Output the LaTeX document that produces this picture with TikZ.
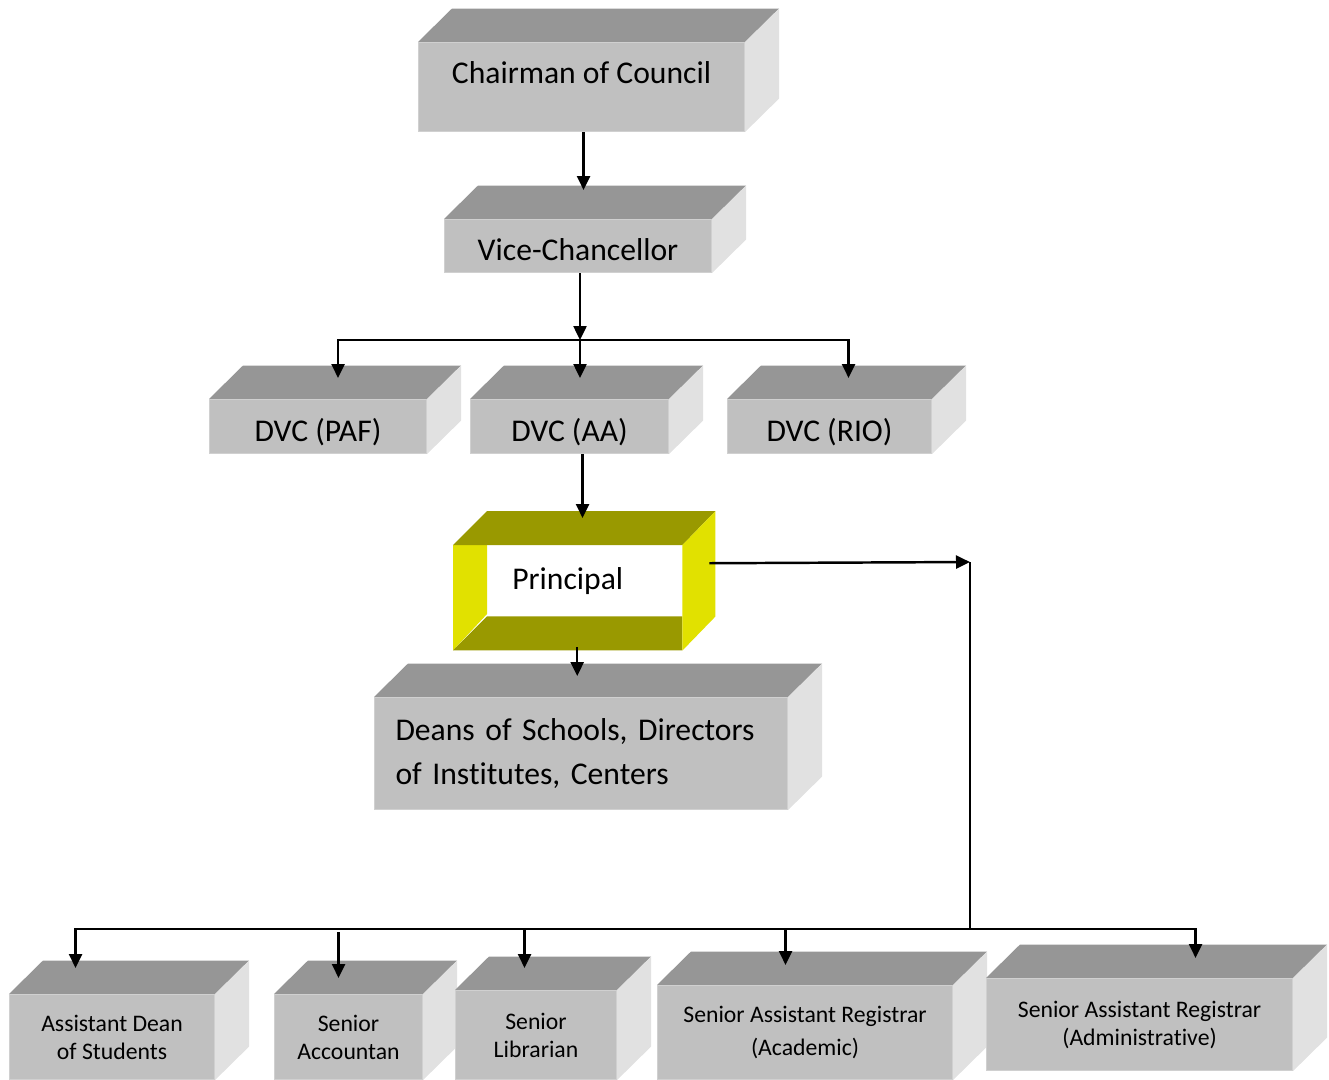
\documentclass[tikz,border=0pt]{standalone}
\usepackage{fontspec}
\setmainfont{Carlito}[Ligatures=NoCommon]
\usetikzlibrary{calc,arrows.meta,backgrounds}
\definecolor{boxfront}{RGB}{192,192,192}
\definecolor{boxtop}{RGB}{150,150,150}
\definecolor{boxside}{RGB}{225,225,225}
\definecolor{boxedge}{RGB}{208,208,208}
\definecolor{princdark}{RGB}{153,153,0}
\definecolor{princlight}{RGB}{225,225,0}
\frenchspacing

\begin{document}
\begin{tikzpicture}[>={Triangle[length=0.28cm,width=0.26cm]}, line width=1.4pt,
    cubefront/.style={draw=boxedge,line width=0.6pt,fill=boxfront,anchor=north west,inner sep=0pt,align=center},
    bigtext/.style={font=\fontsize{18}{22}\selectfont},
    smalltext/.style={font=\fontsize{13.5}{16}\selectfont},
    sink/.style={text height=#1,text depth=0pt},
    lift/.style={text height=0pt,text depth=#1},
    topface/.style={fill=boxtop},
    sideface/.style={fill=boxside}]
    \useasboundingbox (0,0) rectangle (26.58,-21.58);
    % front faces
    \node[cubefront,bigtext,lift=0.14cm,minimum width=6.52cm,minimum height=1.78cm] (chair) at (8.36,-0.84) {Chairman of Council};
    \node[cubefront,bigtext,sink=0.58cm,minimum width=5.34cm,minimum height=1.06cm] (vc) at (8.88,-4.38) {Vice-Chancellor};
    \node[cubefront,bigtext,sink=0.6cm,minimum width=4.34cm,minimum height=1.08cm] (paf) at (4.18,-7.98) {DVC (PAF)};
    \node[cubefront,bigtext,sink=0.6cm,minimum width=3.96cm,minimum height=1.08cm] (aa) at (9.40,-7.98) {DVC (AA)};
    \node[cubefront,bigtext,sink=0.6cm,minimum width=4.08cm,minimum height=1.08cm] (rio) at (14.54,-7.98) {DVC (RIO)};
    \node[cubefront,bigtext,align=left,text width=7.42cm,inner xsep=0.42cm,minimum height=2.24cm,
      font=\fontsize{18}{25.6}\selectfont] (deans) at (7.48,-13.94) {Deans of Schools, Directors\\of Institutes, Centers};
    \node[cubefront,smalltext,minimum width=4.10cm,minimum height=1.70cm] (asd) at (0.18,-19.88) {Assistant Dean\\of Students};
    \node[cubefront,smalltext,minimum width=2.96cm,minimum height=1.70cm] (acc) at (5.48,-19.88) {Senior\\Accountan};
    \node[cubefront,smalltext,minimum width=3.22cm,minimum height=1.78cm] (lib) at (9.10,-19.80) {Senior\\Librarian};
    \node[cubefront,smalltext,minimum width=5.90cm,minimum height=1.88cm] (sarac) at (13.14,-19.70) {Senior Assistant Registrar\\[0.1cm](Academic)};
    \node[cubefront,smalltext,minimum width=6.12cm,minimum height=1.84cm] (sarad) at (19.72,-19.56) {Senior Assistant Registrar\\(Administrative)};
    % top and side faces
    \begin{scope}[on background layer]
      \foreach \n in {chair,vc,paf,aa,rio,deans,asd,acc,lib,sarac,sarad} {
        \fill[topface] (\n.north west) -- ++(0.68,0.67) -- ($(\n.north east)+(0.68,0.67)$) -- (\n.north east) -- cycle;
        \fill[sideface] (\n.north east) -- ++(0.68,0.67) -- ($(\n.south east)+(0.68,0.67)$) -- (\n.south east) -- cycle;
      }
    \end{scope}
    % open yellow box
    \node[fill=white,anchor=north west,inner sep=0pt,bigtext,lift=0.34cm,minimum width=4.54cm,minimum height=2.06cm] (princ) at (9.06,-10.90) {Principal};
    \fill[princlight] (princ.north west) -- ++(0.68,0) -- ++(0,-1.38) -- (princ.south west) -- cycle;
    \fill[princdark] (princ.south west) -- ++(0.68,0.68) -- ($(princ.south east)+(0,0.68)$) -- (princ.south east) -- cycle;
    \fill[princdark] (princ.north west) -- ++(0.68,0.68) -- ($(princ.north east)+(0.66,0.68)$) -- (princ.north east) -- cycle;
    \fill[princlight] (princ.north east) -- ++(0.66,0.68) -- ($(princ.south east)+(0.66,0.68)$) -- (princ.south east) -- cycle;
    % connectors
    \coordinate (vsplit) at (11.60,-6.80);
    \coordinate (hturn) at (19.40,-11.24);
    \coordinate (hsplit) at (19.40,-18.58);
    \coordinate (asd-tip) at ($(asd.north)+(-0.73,0.52)$);
    \coordinate (acc-tip) at ($(acc.north)+(-0.20,0.32)$);
    \coordinate (lib-tip) at ($(lib.north)+(-0.23,0.44)$);
    \coordinate (sarac-tip) at ($(sarac.north)+(-0.39,0.40)$);
    \coordinate (sarad-tip) at ($(sarad.north)+(1.12,0.40)$);
    \draw[->] ($(chair.south)+(0.04,0)$) -- ($(chair.south |- vc.north)+(0.04,0.58)$);
    \draw[->] (vc.south -| vsplit) -- (vsplit);
    \draw[->] (vsplit) -| ($(paf.north)+(0.40,0.42)$);
    \draw[->] (vsplit) -- ($(vsplit |- aa.north)+(0,0.42)$);
    \draw[->] (vsplit) -| ($(rio.north)+(0.38,0.42)$);
    \draw[->] ($(aa.south)+(0.26,0)$) -- ($(aa.south |- princ.north)+(0.26,0.54)$);
    \draw[->] ($(princ.south)+(0.19,0.06)$) -- ($(princ.south |- deans.north)+(0.19,0.42)$);
    \draw[->] ($(princ.east)+(0.54,0.69)$) -- (hturn);
    \draw (hturn) -- (hsplit);
    \draw[->] (hsplit) -| (asd-tip);
    \draw[->] (hsplit) -| (sarad-tip);
    \draw[->] ($(acc-tip |- hsplit)+(0,-0.06)$) -- (acc-tip);
    \draw[->] (lib-tip |- hsplit) -- (lib-tip);
    \draw[->] (sarac-tip |- hsplit) -- (sarac-tip);
  \end{tikzpicture}
\end{document}
